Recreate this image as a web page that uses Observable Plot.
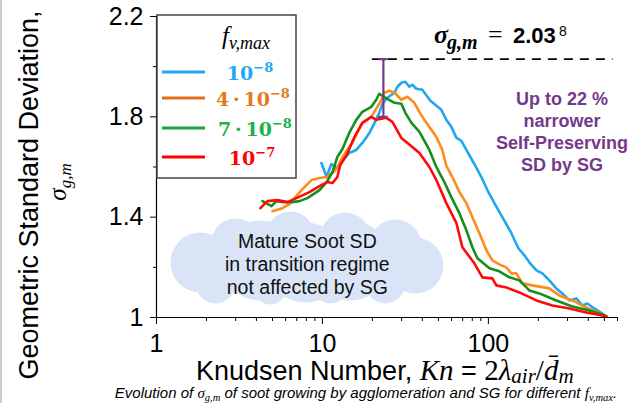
<!DOCTYPE html>
<html><head><meta charset="utf-8">
<script src="https://cdn.jsdelivr.net/npm/d3@7"></script>
<script src="https://cdn.jsdelivr.net/npm/@observablehq/plot@0.6"></script>
<style>html,body{margin:0;padding:0;background:#fff}svg{display:block}</style>
</head><body><div id="chart"></div>
<script>
// ---- series ----
const seriesNames = ["1e-8", "4e-8", "7e-8", "1e-7"];
const lineColors = ["#22a6ef", "#ff8c1a", "#158f1c", "#ff0a0a"];
const legendLineColors = ["#22a6ef", "#e0701e", "#1aa53c", "#ff0000"];
const legendTextColors = ["#1fa9f4", "#e3781e", "#1db04c", "#ff0000"];

const knBlue = [9.86,10.6,11.3,12.1,13.2,14.5,16.0,17.4,19.2,20.6,22.0,23.0,24.6,27.2,28.3,29.9,31.6,33.4,34.8,36.8,40.0,44.7,52.1,55.8,59.8,64.2,68.8,73.7,82.3,90.7,98.6,108.7,121.4,137.6,151.6,164.8,176.6,194.7,211.5,232.9,256.8,279.0,307.6,339,368,394.6,435.2,486,514];
const sigBlue = [1.616,1.56,1.612,1.596,1.624,1.656,1.668,1.696,1.736,1.776,1.816,1.852,1.876,1.896,1.92,1.936,1.94,1.92,1.928,1.912,1.908,1.864,1.828,1.788,1.76,1.716,1.704,1.668,1.612,1.56,1.508,1.456,1.40,1.336,1.276,1.248,1.22,1.188,1.176,1.148,1.116,1.096,1.068,1.076,1.048,1.056,1.036,1.016,1.004];

const knOrange = [5.00,5.74,6.33,6.78,7.58,8.58,9.60,10.6,11.5,12.3,13.2,15.2,17.4,19.7,21.4,22.7,23.6,25.3,27.2,29.9,32.5,35.8,38.4,41.1,44.1,48.6,52.8,55.8,60.7,66.9,73.7,80.1,88.3,97.3,105.7,116.4,128.3,137.6,147.4,160.3,184.1,232.9,267.7,320.6,389,486,514];
const sigOrange = [1.424,1.436,1.452,1.476,1.512,1.548,1.556,1.56,1.576,1.596,1.64,1.70,1.776,1.80,1.84,1.868,1.896,1.904,1.896,1.868,1.88,1.856,1.82,1.788,1.76,1.72,1.668,1.604,1.56,1.50,1.456,1.40,1.336,1.268,1.228,1.212,1.20,1.176,1.176,1.136,1.128,1.116,1.088,1.068,1.04,1.012,1.004];

const knGreen = [4.35,4.93,5.28,5.90,6.50,7.27,8.12,9.60,10.6,11.5,12.3,13.2,14.5,16.0,17.4,19.7,21.1,22.0,24.0,27.2,29.9,31.6,34.4,38.4,44.1,48.6,54.3,59.8,66.9,73.7,80.1,85.9,101.4,116.4,133.9,153.7,176.6,202.9,256.8,320.6,405.6,486,514];
const sigGreen = [1.464,1.444,1.464,1.46,1.46,1.464,1.476,1.508,1.54,1.58,1.64,1.672,1.736,1.788,1.82,1.84,1.868,1.892,1.876,1.856,1.852,1.816,1.776,1.74,1.668,1.60,1.54,1.48,1.416,1.348,1.28,1.236,1.196,1.184,1.16,1.148,1.108,1.096,1.068,1.044,1.028,1.012,1.004];

const knRed = [4.23,4.66,5.36,6.15,6.97,8.35,9.60,10.7,11.5,12.3,12.8,14.0,15.6,17.4,19.7,21.1,24.3,26.4,29.9,34.8,38.4,44.1,48.6,55.8,64.2,69.7,82.3,92.0,105.7,111.7,128.3,153.7,194.7,243,308,389,487,514];
const sigRed = [1.436,1.464,1.468,1.46,1.476,1.50,1.524,1.54,1.536,1.56,1.608,1.648,1.72,1.776,1.80,1.788,1.796,1.78,1.716,1.68,1.656,1.60,1.548,1.456,1.376,1.28,1.216,1.16,1.156,1.128,1.12,1.10,1.068,1.048,1.036,1.02,1.008,1.004];

// ---- axes ----
const xMajorTicks = [1, 10, 100];
const xMinorTicks = [2,3,4,5,6,7,8,9,20,30,40,50,60,70,80,90,200,300,400,500,600];
const yMajorTicks = [1, 1.4, 1.8, 2.2];
const yMinorTicks = [1.2, 1.6, 2.0];
const xTickLabels = ["1", "10", "100"];
const yTickLabels = ["1", "1.4", "1.8", "2.2"];

// ---- annotations ----
const refSigma = [2.03];
const refLineKn = [20, 564];
const errorBar = [{kn: 23.3, lo: 1.8, hi: 2.03}];
const errorCaps = [{y: 1.8, a: 21.7, b: 24.9}, {y: 2.03, a: 21.7, b: 24.9}];
const cloudKn = [1.84, 2.99, 6.41, 13.7, 27.5, 36.3, 23.9, 11.2, 4.86, 2.27, 4.23, 14.7, 7.89];
const cloudSig = [1.219, 1.299, 1.327, 1.319, 1.287, 1.207, 1.136, 1.128, 1.116, 1.136, 1.227, 1.227, 1.219];
const cloudR = [30, 24, 24, 25, 26, 28, 20, 18, 16, 20, 40, 40, 40];
const cloudText = [{kn: 8.11, sig: 1.215, text: "Mature Soot SD\nin transition regime\nnot affected by SG"}];
const noteText = [{kn: 278, sig: 1.744, text: "Up to 22 %\nnarrower\nSelf-Preserving\nSD by SG"}];

const PURPLE = "#75398c";
const SANS = "'Liberation Sans', Arial, sans-serif";
const SERIF = "'Liberation Serif', 'Times New Roman', serif";
const BOLDSERIF = "'DejaVu Serif', serif";

const seriesKn = [knBlue, knOrange, knGreen, knRed];
const seriesSig = [sigBlue, sigOrange, sigGreen, sigRed];
const rows = [];
seriesNames.forEach((s, i) => seriesKn[i].forEach((k, j) => rows.push({series: s, kn: k, sig: seriesSig[i][j]})));
const cloud = cloudKn.map((k, i) => ({kn: k, sig: cloudSig[i], r: cloudR[i]}));
const xFmt = d => xTickLabels[xMajorTicks.indexOf(d)] ?? "";
const yFmt = d => yTickLabels[yMajorTicks.findIndex(t => Math.abs(t - d) < 1e-9)] ?? "";

const plot = Plot.plot({
  width: 643, height: 403,
  marginLeft: 156, marginRight: 26, marginTop: 16, marginBottom: 86,
  x: {type: "log", domain: [1, 600], label: null},
  y: {domain: [1, 2.2], label: null},
  r: {type: "identity"},
  color: {domain: seriesNames, range: lineColors},
  style: {fontFamily: SANS, background: "white", color: "black", overflow: "visible"},
  marks: [
    Plot.dot(cloud, {x: "kn", y: "sig", r: "r", fill: "#d9e4f6", stroke: null}),
    Plot.text(cloudText, {x: "kn", y: "sig", text: "text", fontSize: 19.5, lineHeight: 1.17, fill: "#111", fontFamily: SANS}),
    Plot.ruleY(refSigma, {x1: () => refLineKn[0], x2: () => refLineKn[1], stroke: "black", strokeWidth: 1.6, strokeDasharray: "9,7"}),
    Plot.line(rows, {x: "kn", y: "sig", z: "series", stroke: "series", strokeWidth: 2.6, strokeLinejoin: "round"}),
    Plot.ruleX(errorBar, {x: "kn", y1: "lo", y2: "hi", stroke: PURPLE, strokeWidth: 2.2}),
    Plot.ruleY(errorCaps, {y: "y", x1: "a", x2: "b", stroke: PURPLE, strokeWidth: 2.2}),
    Plot.text(noteText, {x: "kn", y: "sig", text: "text", fontSize: 18, fontWeight: "bold", lineHeight: 1.24, fill: PURPLE, fontFamily: SANS}),
    Plot.ruleX([1], {stroke: "black", strokeWidth: 1.2}),
    Plot.ruleY([1], {stroke: "black", strokeWidth: 1.2}),
    Plot.axisX(xMajorTicks, {tickFormat: xFmt, tickSize: 7, tickPadding: 10, fontSize: 25, label: null}),
    Plot.axisX(xMinorTicks, {tickFormat: () => "", tickSize: 4, label: null}),
    Plot.axisY(yMajorTicks, {tickFormat: yFmt, tickSize: 6, tickPadding: 7, fontSize: 25, label: null}),
    Plot.axisY(yMinorTicks, {tickFormat: () => "", tickSize: 3, label: null})
  ]
});
document.getElementById("chart").appendChild(plot);

const svg = d3.select(plot);

// page border
svg.append("line").attr("x1", 1).attr("x2", 1).attr("y1", 0).attr("y2", 403).attr("stroke", "#bbb").attr("stroke-width", 1.5);

// y label
svg.append("text").attr("transform", "translate(38,195) rotate(-90)").attr("text-anchor", "middle")
  .attr("font-family", SANS).attr("font-size", 27).attr("fill", "black").text("Geometric Standard Deviation,");
const ys = svg.append("text").attr("transform", "translate(66,182) rotate(-90)").attr("text-anchor", "middle")
  .attr("font-family", SERIF).attr("font-style", "italic").attr("font-size", 25).attr("fill", "black");
ys.append("tspan").text("σ");
ys.append("tspan").attr("font-size", 17).attr("dy", 5).text("g,m");

// x label
const xl = svg.append("text").attr("x", 196).attr("y", 380).attr("text-anchor", "start").attr("fill", "black").attr("font-family", SANS).attr("font-size", 27);
xl.append("tspan").text("Knudsen Number, ");
xl.append("tspan").attr("font-family", SERIF).attr("font-style", "italic").attr("font-size", 29).text("Kn");
xl.append("tspan").text(" = ");
xl.append("tspan").attr("font-family", SERIF).attr("font-size", 29).text("2");
xl.append("tspan").attr("font-family", SERIF).attr("font-style", "italic").attr("font-size", 29).text("λ");
xl.append("tspan").attr("font-family", SERIF).attr("font-style", "italic").attr("font-size", 21).attr("dy", 3).text("air");
xl.append("tspan").attr("font-family", SERIF).attr("font-size", 29).attr("dy", -3).text("/");
xl.append("tspan").attr("font-family", SERIF).attr("font-style", "italic").attr("font-size", 29).text("d\u0304");
xl.append("tspan").attr("font-family", SERIF).attr("font-style", "italic").attr("font-size", 21).attr("dy", 3).text("m");

// caption
const cap = svg.append("text").attr("x", 366).attr("y", 398).attr("text-anchor", "middle").attr("fill", "black")
  .attr("font-family", SANS).attr("font-style", "italic").attr("font-size", 15);
cap.append("tspan").text("Evolution of ");
cap.append("tspan").attr("font-family", SERIF).text("σ");
cap.append("tspan").attr("font-family", SERIF).attr("font-size", 10.5).attr("dy", 2.5).text("g,m");
cap.append("tspan").attr("dy", -2.5).text(" of soot growing by agglomeration and SG for different ");
cap.append("tspan").attr("font-family", SERIF).attr("font-size", 15.5).text("f");
cap.append("tspan").attr("font-family", SERIF).attr("font-size", 10.5).attr("dy", 2.5).text("v,max");
cap.append("tspan").attr("dy", -2.5).text(".");

// sigma annotation
const sa = svg.append("text").attr("y", 43).attr("text-anchor", "start").attr("fill", "black");
sa.append("tspan").attr("x", 434).attr("font-family", SERIF).attr("font-weight", "bold").attr("font-style", "italic").attr("font-size", 26).text("σ");
sa.append("tspan").attr("x", 447).attr("dy", 6).attr("font-family", SERIF).attr("font-weight", "bold").attr("font-style", "italic").attr("font-size", 20).text("g,m");
sa.append("tspan").attr("x", 488).attr("dy", -6).attr("font-family", SERIF).attr("font-size", 26).text("=");
sa.append("tspan").attr("x", 513).attr("font-family", SANS).attr("font-weight", "bold").attr("font-size", 22).text("2.03");
sa.append("tspan").attr("x", 559).attr("dy", -7).attr("font-family", SANS).attr("font-size", 14).text("8");

// legend
const lg = svg.append("g");
lg.append("rect").attr("x", 157).attr("y", 15).attr("width", 139).attr("height", 163)
  .attr("fill", "white").attr("stroke", "#444").attr("stroke-width", 1.5);
const lt = lg.append("text").attr("x", 222).attr("y", 44).attr("text-anchor", "start").attr("fill", "black").attr("font-family", SERIF).attr("font-style", "italic");
lt.append("tspan").attr("font-size", 25).text("f");
lt.append("tspan").attr("font-size", 18).attr("dy", 5).text("v,max");
const legendY = [72, 98, 128, 157];
const legendMain = ["10", "4\u2009·\u200910", "7\u2009·\u200910", "10"];
const legendExp = ["\u22128", "\u22128", "\u22128", "\u22127"];
const legendCx = [250, 253, 255, 252];
seriesNames.forEach((s, i) => {
  lg.append("line").attr("x1", 162).attr("x2", 205).attr("y1", legendY[i]).attr("y2", legendY[i])
    .attr("stroke", legendLineColors[i]).attr("stroke-width", 3);
  const t = lg.append("text").attr("x", legendCx[i]).attr("y", legendY[i] + 8).attr("text-anchor", "middle")
    .attr("fill", legendTextColors[i]).attr("font-family", BOLDSERIF).attr("font-weight", "bold");
  t.append("tspan").attr("font-size", 19).text(legendMain[i]);
  t.append("tspan").attr("font-size", 13).attr("dy", -8).text(legendExp[i]);
});
</script>
</body></html>
